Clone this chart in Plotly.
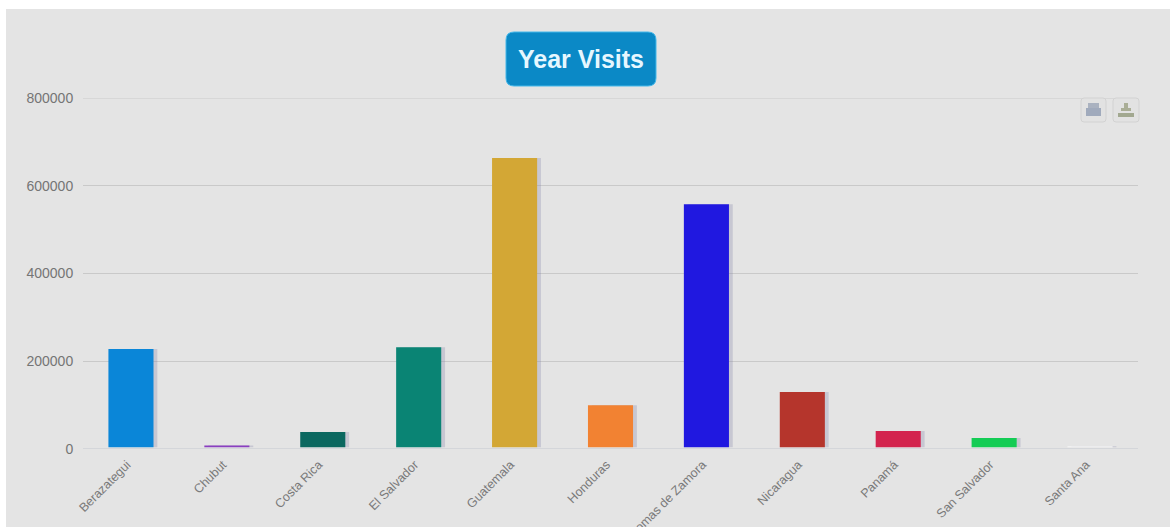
import plotly.graph_objects as go

cities = ["Berazategui", "Chubut", "Costa Rica", "El Salvador", "Guatemala", "Honduras",
          "Lomas de Zamora", "Nicaragua", "Panamá", "San Salvador", "Santa Ana"]
visits = [228000, 8000, 39000, 232000, 663000, 100000, 558000, 130000, 41000, 25000, 6500]
bar_colors = ["#0a86d8", "#8a3fc0", "#0b6860", "#0a8474", "#d3a735", "#f28232",
              "#2018e0", "#b5352c", "#d3244e", "#14cc55", "#f6f6f6"]
y_ticks = [0, 200000, 400000, 600000, 800000]

WIDTH, HEIGHT = 1170, 527
LEFT, RIGHT, TOP, BOTTOM = 83, 32, 98, 78
PANEL = "#e4e4e4"
BAR_WIDTH = 0.47


def px(x):
    return (x - LEFT) / (WIDTH - LEFT - RIGHT)


def py(y):
    return 1 - (y - TOP) / (HEIGHT - TOP - BOTTOM)


def rounded_box(x0, y0, x1, y1, r):
    """SVG path of a rounded rectangle, given in page pixels."""
    a, b, c, d = px(x0), px(x1), py(y0), py(y1)
    rx, ry = r / (WIDTH - LEFT - RIGHT), r / (HEIGHT - TOP - BOTTOM)
    return (f"M {a + rx} {c} L {b - rx} {c} Q {b} {c} {b} {c - ry} L {b} {d + ry} "
            f"Q {b} {d} {b - rx} {d} L {a + rx} {d} Q {a} {d} {a} {d + ry} "
            f"L {a} {c - ry} Q {a} {c} {a + rx} {c} Z")


def paper_rect(x0, y0, x1, y1, fill, layer="above"):
    return dict(type="rect", xref="paper", yref="paper", layer=layer,
                x0=px(x0), x1=px(x1), y0=py(y0), y1=py(y1),
                fillcolor=fill, line_width=0)


fig = go.Figure()

# Soft drop shadow sitting just right of each column
fig.add_bar(x=cities, y=visits, width=BAR_WIDTH, offset=-BAR_WIDTH / 2 + 0.04,
            marker=dict(color="rgba(125,125,165,0.28)", line_width=0), hoverinfo="skip")
fig.add_bar(x=cities, y=visits, width=BAR_WIDTH, offset=-BAR_WIDTH / 2,
            marker=dict(color=bar_colors, line_width=0))

shapes = [
    # Grey panel behind the chart
    paper_rect(6, 9, WIDTH, HEIGHT, PANEL, "below"),
    # Top gridline, which the axis would otherwise drop at the range edge
    dict(type="line", xref="paper", yref="y", layer="below", x0=0, x1=1,
         y0=y_ticks[-1], y1=y_ticks[-1], line=dict(color="#c9c9c9", width=1)),
    # Small gap between the columns and the baseline
    dict(type="rect", xref="paper", yref="y", layer="above", x0=0, x1=1, y0=0, y1=4000,
         fillcolor=PANEL, line_width=0),
    dict(type="line", xref="paper", yref="y", layer="above", x0=0, x1=1, y0=0, y1=0,
         line=dict(color="#c5c8d0", width=1)),
    # Title badge
    dict(type="path", xref="paper", yref="paper", layer="above",
         path=rounded_box(506, 32, 656, 86, 8), fillcolor="#0b89c6",
         line=dict(color="#45b8ea", width=1)),
    # Print button
    dict(type="path", xref="paper", yref="paper", layer="above",
         path=rounded_box(1081, 98, 1106, 122, 3), fillcolor="#e2e2e2",
         line=dict(color="#d2d2d2", width=1)),
    paper_rect(1088, 103, 1099, 108, "#aab2c0"),
    paper_rect(1086, 108, 1101, 116, "#a0aabc"),
    # Download button
    dict(type="path", xref="paper", yref="paper", layer="above",
         path=rounded_box(1113, 98, 1139, 122, 3), fillcolor="#e2e2e2",
         line=dict(color="#d2d2d2", width=1)),
    paper_rect(1124, 103, 1128, 111, "#aaae96"),
    paper_rect(1121, 108, 1131, 111, "#aaae96"),
    paper_rect(1118, 113, 1134, 117, "#a2a890"),
]

fig.update_layout(
    width=WIDTH, height=HEIGHT, autosize=False,
    margin=dict(l=LEFT, r=RIGHT, t=TOP, b=BOTTOM, pad=0),
    paper_bgcolor="white", plot_bgcolor="rgba(0,0,0,0)",
    barmode="overlay", showlegend=False, shapes=shapes,
    annotations=[dict(text="<b>Year Visits</b>", xref="paper", yref="paper",
                      x=px(581), y=py(59), xanchor="center", yanchor="middle",
                      showarrow=False,
                      font=dict(family="Liberation Sans", size=25, color="#e6f7ff"))],
    font=dict(family="Liberation Sans", size=13, color="#757575"),
)
fig.update_xaxes(type="category", categoryorder="array", categoryarray=cities,
                 range=[-0.5, 10.5], showgrid=False, showline=False, zeroline=False,
                 ticks="", tickangle=-45, ticklabelstandoff=5, ticklabelshift=-4,
                 tickfont=dict(size=12.5, color="#7a7a7a"), automargin=False)
fig.update_yaxes(range=[0, 800000], tickvals=y_ticks, ticktext=[str(v) for v in y_ticks],
                 showgrid=True, gridcolor="#c9c9c9", gridwidth=1, zeroline=False,
                 showline=False, ticks="outside", ticklen=6, tickcolor="rgba(0,0,0,0)",
                 tickfont=dict(size=14, color="#757575"), automargin=False)

fig.write_html("out.html", config=dict(displayModeBar=False))
